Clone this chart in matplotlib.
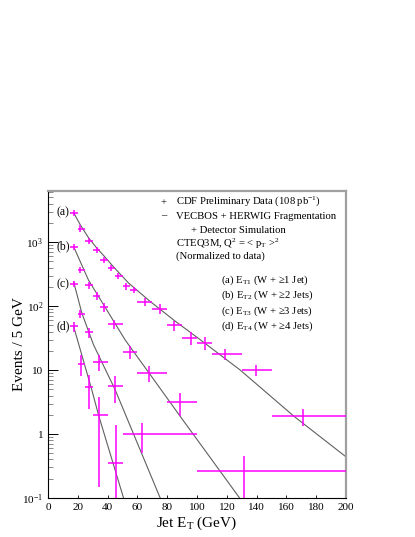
import numpy as np
import matplotlib
matplotlib.use('Agg')
import matplotlib.pyplot as plt
from matplotlib.ticker import FixedLocator, FixedFormatter, LogLocator, NullFormatter

plt.rcParams['font.family'] = ['Liberation Serif', 'DejaVu Serif']
plt.rcParams['mathtext.fontset'] = 'custom'
plt.rcParams['mathtext.rm'] = 'Liberation Serif'
plt.rcParams['mathtext.it'] = 'Liberation Serif:italic'

# ---- data (Events / 5 GeV) ----
# (a) E_T1, W + >=1 jet
a_x  = np.array([17.2, 21.7, 27.4, 32.7, 37.4, 42.2, 47.3, 52.5, 57.6, 64.8, 74.9, 84.7, 96.2, 105.1, 118.6, 139.9, 171.3])
a_lo = np.array([15, 20, 25, 30, 35, 40, 45, 50, 55, 60, 70, 80, 90, 100, 110, 130, 150])
a_hi = np.array([20, 25, 30, 35, 40, 45, 50, 55, 60, 70, 80, 90, 100, 110, 130, 150, 200])
a_y  = np.array([2880, 1630, 1050, 750, 535, 400, 297, 203, 180, 117, 91, 50, 32, 26.5, 18, 10, 1.9])
a_e  = np.array([330, 190, 120, 85, 60, 45, 35, 25, 22, 17, 15, 8.5, 7, 6, 3.6, 2.0, 0.57])

# (b) E_T2, W + >=2 jets
b_x  = np.array([17.2, 21.7, 27.4, 32.7, 37.4, 44.6, 55.1, 67.5, 88.3, 131.8])
b_lo = np.array([15, 20, 25, 30, 35, 40, 50, 60, 80, 100])
b_hi = np.array([20, 25, 30, 35, 40, 50, 60, 80, 100, 200])
b_y  = np.array([850, 370, 210, 144, 96, 52, 19.5, 9, 3.16, 0.264])
b_e  = np.array([95, 45, 28, 20, 14, 8, 4.5, 2.5, 1.25, 0.19])

# (c) E_T3, W + >=3 jets
c_x  = np.array([17.2, 21.7, 27.4, 34.0, 45.1, 63.0])
c_lo = np.array([15, 20, 25, 30, 40, 50])
c_hi = np.array([20, 25, 30, 40, 50, 100])
c_y  = np.array([223, 76, 39, 13.5, 5.6, 1.0])
c_e  = np.array([27, 12, 7, 3.7, 2.5, 0.5])

# (d) E_T4, W + >=4 jets
d_x  = np.array([17.2, 22.0, 27.6, 34.0, 45.5])
d_lo = np.array([15, 20, 25, 30, 40])
d_hi = np.array([20, 25, 30, 40, 50])
d_y  = np.array([48, 12.5, 5.5, 1.95, 0.35])
d_e  = np.array([9, 4.5, 3.0, 1.8, 1.03])

# VECBOS + HERWIG curves
la_x = [17.2, 21.7, 27.4, 32.7, 37.4, 44, 54, 68.6, 85, 102, 129, 165, 200]
la_y = [2880, 1860, 1150, 810, 615, 410, 230, 118, 59, 30, 10, 1.9, 0.44]
lb_x = [17.2, 27.1, 51.8, 66.4, 88.8, 128.6]
lb_y = [850, 257, 29.5, 10, 1.88, 0.1]
lc_x = [17.2, 22.7, 30.5, 45.1, 75.3]
lc_y = [240, 78, 25, 4.9, 0.1]
ld_x = [17.2, 29.4, 34.0, 50.7]
ld_y = [48, 4.9, 1.95, 0.1]

series = [(a_x, a_lo, a_hi, a_y, a_e, '(a)'),
          (b_x, b_lo, b_hi, b_y, b_e, '(b)'),
          (c_x, c_lo, c_hi, c_y, c_e, '(c)'),
          (d_x, d_lo, d_hi, d_y, d_e, '(d)')]
curves = [(la_x, la_y), (lb_x, lb_y), (lc_x, lc_y), (ld_x, ld_y)]

yticks = [0.1, 1, 10, 100, 1000]
ylabels = [r'10$^{-1}$', '1', '10', r'10$^{2}$', r'10$^{3}$']
xticks = np.arange(0, 201, 20)

fig = plt.figure(figsize=(4.15, 5.37), dpi=100)
ax = fig.add_axes([48/415, 39/537, 298/415, 307/537])
ax.set_yscale('log')
ax.set_xlim(0, 200)
ax.set_ylim(0.1, 6300)

magenta = '#ff00ff'
for cx, cy in curves:
    ax.plot(cx, cy, color='#606060', lw=0.8, zorder=2)

for x, lo, hi, y, e, lab in series:
    ylow = np.minimum(e, y * 0.999)
    ax.errorbar(x, y, xerr=[x - lo, hi - x], yerr=[ylow, e], fmt='none',
                ecolor=magenta, elinewidth=1.1, capsize=0, zorder=3)
    ax.text(14.5, y[0], lab, ha='right', va='center', fontsize=8.5)

# axes styling
for s in ['top', 'right']:
    ax.spines[s].set_color('#a0a0a0')
    ax.spines[s].set_linewidth(1.6)
for s in ['left', 'bottom']:
    ax.spines[s].set_linewidth(0.8)
ax.yaxis.set_major_locator(FixedLocator(yticks))
ax.yaxis.set_major_formatter(FixedFormatter(ylabels))
ax.yaxis.set_minor_locator(LogLocator(base=10, subs=np.arange(2, 10)))
ax.yaxis.set_minor_formatter(NullFormatter())
ax.set_xticks(xticks)
ax.tick_params(axis='y', which='major', direction='in', length=7, width=0.7, labelsize=8)
ax.tick_params(axis='y', which='minor', direction='in', length=3.5, width=0.6, color='#777777')
ax.tick_params(axis='x', which='major', direction='in', length=2, width=0.6, labelsize=8)

ax.set_xlabel(r'Jet E$_\mathrm{T}$ (GeV)', fontsize=11, labelpad=2)
ax.set_ylabel('Events / 5 GeV', fontsize=11)
ax.yaxis.set_label_coords(-0.075, 0.5)

# legend-like text block
tr = ax.transAxes
fs = 7.7
ax.text(0.387, 0.962, '+', transform=tr, ha='center', va='center', fontsize=fs)
ax.text(0.430, 0.967, r'CDF Preliminary Data (108 pb$^{-1}$)', transform=tr, va='center', fontsize=fs)
ax.text(0.387, 0.918, '\u2013', transform=tr, ha='center', va='center', fontsize=fs)
ax.text(0.430, 0.917, 'VECBOS + HERWIG Fragmentation', transform=tr, va='center', fontsize=fs)
ax.text(0.479, 0.871, '+ Detector Simulation', transform=tr, va='center', fontsize=fs)
ax.text(0.430, 0.827, r'CTEQ3M, Q$^{2}$ = < p$_\mathrm{T}$ >$^{2}$', transform=tr, va='center', fontsize=fs)
ax.text(0.430, 0.789, '(Normalized to data)', transform=tr, va='center', fontsize=fs)

jet_lines = ['(a) E$_\\mathrm{T1}$ (W + \u22651 Jet)',
             '(b) E$_\\mathrm{T2}$ (W + \u22652 Jets)',
             '(c) E$_\\mathrm{T3}$ (W + \u22653 Jets)',
             '(d) E$_\\mathrm{T4}$ (W + \u22654 Jets)']
for i, t in enumerate(jet_lines):
    ax.text(0.580, 0.710 - i * 0.0505, t, transform=tr, va='center', fontsize=fs)

fig.savefig('out.png', dpi=100)
